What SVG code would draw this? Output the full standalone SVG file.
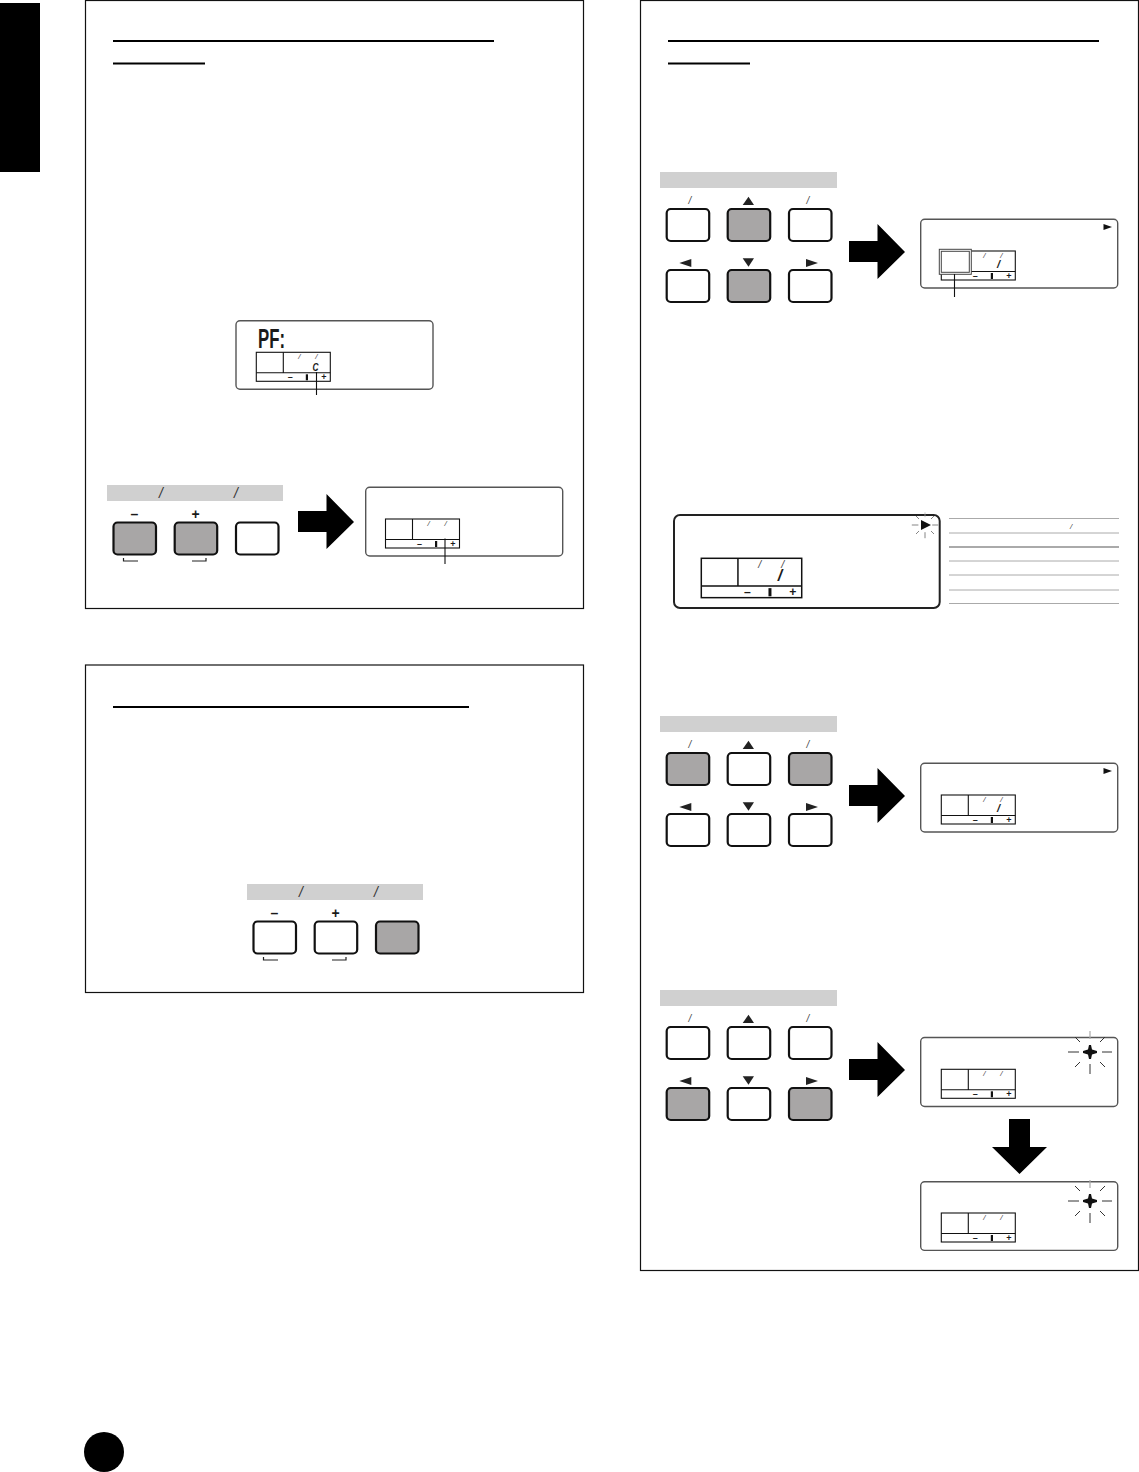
<svg xmlns="http://www.w3.org/2000/svg" xmlns:xlink="http://www.w3.org/1999/xlink" width="1139" height="1472" viewBox="0 0 1139 1472">
<style>
text{font-family:"Liberation Sans",Arial,sans-serif;fill:#1a1a1a;text-anchor:middle}
.frame{fill:#fff;stroke:#111;stroke-width:1.2}
.rule{stroke:#000;stroke-width:2.2;fill:none}
.lcd{fill:#fff;stroke:#555;stroke-width:1.4}
.lcdbig{fill:#fff;stroke:#222;stroke-width:2}
.cell{fill:none;stroke:#111;stroke-width:1.1}
.bar{fill:#d0d0d0}
.btn{fill:#fff;stroke:#111;stroke-width:2.2}
.on{fill:#a8a6a6;stroke:#111;stroke-width:2.2}
.sl{font-size:8px;font-style:italic;fill:#444}
.slb{font-size:14px;font-style:italic;fill:#333}
.mn{font-size:9px;font-weight:bold}
.key{font-size:14px;font-weight:bold}
.dig{font-size:11px;font-style:italic;font-weight:bold}
.lead{stroke:#111;stroke-width:1.1;fill:none}
.ray{stroke:#333;stroke-width:1;fill:none}
.rayg{stroke:#aaa;stroke-width:1.2;fill:none}
.tbl{stroke:#aaa;stroke-width:1;fill:none}
.tick{stroke:#222;stroke-width:1.2;fill:none}
</style>
<defs>
<g id="panel">
<rect class="cell" x="0" y="0" width="74" height="29"/>
<path class="cell" d="M27 0V20.5M0 20.5H74"/>
<text class="mn" x="34" y="27.5">–</text>
<rect x="49.5" y="22" width="2.2" height="6" fill="#111"/>
<text class="mn" x="67.5" y="27.8">+</text>
<text class="sl" x="43" y="7">/</text>
<text class="sl" x="60" y="7">/</text>
</g>
<polygon id="arrow" points="0,17 28.5,17 28.5,0 56,28 28.5,55 28.5,38 0,38" fill="#000"/>
<g id="rays">
<path class="ray" d="M-11 0H-22M12 0H22M0 12V22M-15 15L-10 10M10 10L15 15M10 -10L15 -15M-15 -15L-10 -10"/>
<path class="rayg" d="M0 -21V-13"/>
</g>
<polygon id="star" points="-7,-1 -2,-2.5 -1,-7 1,-7 2,-2.5 7,-1 7,1 2,2.5 1,7 -1,7 -2,2.5 -7,1" fill="#111"/>
<g id="keysym">
<rect class="bar" x="0" y="0" width="177" height="16"/>
<polygon points="82.7,33 94,33 88.5,24.7" fill="#222"/>
<polygon points="82.7,86.3 94,86.3 88.5,94.7" fill="#222"/>
<polygon points="19.3,91 31.3,87 31.3,95" fill="#222"/>
<polygon points="146,87 158,91 146,95" fill="#222"/>
<text class="sl" x="30" y="32" style="font-size:10px">/</text>
<text class="sl" x="148" y="32" style="font-size:10px">/</text>
</g>
<g id="plusminus">
<rect class="bar" x="0" y="0" width="176" height="16"/>
<text class="slb" x="54" y="13">/</text>
<text class="slb" x="129" y="13">/</text>
<text class="key" x="27.5" y="34">–</text>
<text class="key" x="88.5" y="34">+</text>
<path class="tick" d="M16.5 73V76H31M85 76H99V73"/>
</g>
</defs>

<rect width="1139" height="1472" fill="#fff"/>

<g id="tab"><rect x="0" y="3" width="40" height="169" fill="#000"/></g>
<g id="page-dot"><circle cx="104" cy="1452" r="20" fill="#000"/></g>

<g id="box-1">
<rect class="frame" x="85.5" y="0.5" width="498" height="608"/>
<path class="rule" d="M113 41H494M113 63.5H205"/>
</g>
<g id="lcd-1">
<rect class="lcd" x="236" y="320.7" width="197" height="68.5" rx="4"/>
<text x="258" y="347.5" font-size="27" font-weight="bold" textLength="27" lengthAdjust="spacingAndGlyphs" style="text-anchor:start">PF:</text>
<use xlink:href="#panel" href="#panel" x="256.3" y="352.3"/>
<text class="dig" x="315.5" y="371" textLength="6" lengthAdjust="spacingAndGlyphs">C</text>
</g>
<g id="keys-1">
<use xlink:href="#plusminus" href="#plusminus" x="107" y="485"/>
<rect class="on" x="113.5" y="522.5" width="42.5" height="32" rx="4"/>
<rect class="on" x="174.7" y="522.5" width="42.5" height="32" rx="4"/>
<rect class="btn" x="236" y="522.5" width="42.5" height="32" rx="4"/>
</g>
<g id="lcd-2">
<rect class="lcd" x="365.7" y="487.3" width="197" height="68.7" rx="4"/>
<use xlink:href="#panel" href="#panel" x="385.5" y="519"/>
</g>

<g id="box-2">
<rect class="frame" x="85.5" y="665" width="498" height="327.5"/>
<path class="rule" d="M113 707H469"/>
</g>
<g id="keys-2">
<use xlink:href="#plusminus" href="#plusminus" x="247" y="884"/>
<rect class="btn" x="253.5" y="921.5" width="42.5" height="32" rx="4"/>
<rect class="btn" x="314.7" y="921.5" width="42.5" height="32" rx="4"/>
<rect class="on" x="376" y="921.5" width="42.5" height="32" rx="4"/>
</g>

<g id="box-3">
<rect class="frame" x="640.5" y="0.5" width="498" height="1270"/>
<path class="rule" d="M668 41H1099M668 63.5H750"/>
</g>

<g id="keys-a">
<use xlink:href="#keysym" href="#keysym" x="660" y="172"/>
<rect class="btn" x="666.7" y="209" width="42.5" height="32" rx="4"/>
<rect class="on" x="727.7" y="209" width="42.5" height="32" rx="4"/>
<rect class="btn" x="789" y="209" width="42.5" height="32" rx="4"/>
<rect class="btn" x="666.7" y="270" width="42.5" height="32" rx="4"/>
<rect class="on" x="727.7" y="270" width="42.5" height="32" rx="4"/>
<rect class="btn" x="789" y="270" width="42.5" height="32" rx="4"/>
</g>
<g id="lcd-a">
<rect class="lcd" x="920.7" y="219.3" width="197" height="68.7" rx="4"/>
<use xlink:href="#panel" href="#panel" x="941.3" y="251"/>
<rect x="939.3" y="249.3" width="32" height="25" fill="#fff" stroke="#444" stroke-width="1"/>
<rect x="941.3" y="251.3" width="28" height="21" fill="#fff" stroke="#444" stroke-width="1"/>
<polygon points="1103.5,224 1112,227 1103.5,230" fill="#111"/>
<text class="dig" x="998.5" y="268">/</text>
</g>

<g id="lcd-b">
<rect class="lcdbig" x="674" y="515" width="265.7" height="93" rx="6"/>
<use xlink:href="#panel" href="#panel" transform="translate(701.3 558.3) scale(1.357)"/>
<text class="dig" x="780" y="581" style="font-size:16px">/</text>
<polygon points="921,520 931,525 921,530" fill="#111"/>
<use xlink:href="#rays" href="#rays" transform="translate(925 525) scale(.6)"/>
</g>
<g id="table">
<path class="tbl" d="M949 518.5H1119M949 533H1119M949 561H1119M949 575H1119M949 590H1119M949 603.5H1119"/>
<path class="tbl" style="stroke-width:2" d="M949 547H1119"/>
<text class="sl" x="1071" y="529">/</text>
</g>

<g id="keys-c">
<use xlink:href="#keysym" href="#keysym" x="660" y="716"/>
<rect class="on" x="666.7" y="753" width="42.5" height="32" rx="4"/>
<rect class="btn" x="727.7" y="753" width="42.5" height="32" rx="4"/>
<rect class="on" x="789" y="753" width="42.5" height="32" rx="4"/>
<rect class="btn" x="666.7" y="814" width="42.5" height="32" rx="4"/>
<rect class="btn" x="727.7" y="814" width="42.5" height="32" rx="4"/>
<rect class="btn" x="789" y="814" width="42.5" height="32" rx="4"/>
</g>
<g id="lcd-c">
<rect class="lcd" x="920.7" y="763.3" width="197" height="68.7" rx="4"/>
<use xlink:href="#panel" href="#panel" x="941.3" y="795"/>
<polygon points="1103.5,768 1112,771 1103.5,774" fill="#111"/>
<text class="dig" x="998.5" y="812">/</text>
</g>

<g id="keys-d">
<use xlink:href="#keysym" href="#keysym" x="660" y="990"/>
<rect class="btn" x="666.7" y="1027" width="42.5" height="32" rx="4"/>
<rect class="btn" x="727.7" y="1027" width="42.5" height="32" rx="4"/>
<rect class="btn" x="789" y="1027" width="42.5" height="32" rx="4"/>
<rect class="on" x="666.7" y="1088" width="42.5" height="32" rx="4"/>
<rect class="btn" x="727.7" y="1088" width="42.5" height="32" rx="4"/>
<rect class="on" x="789" y="1088" width="42.5" height="32" rx="4"/>
</g>
<g id="lcd-d">
<rect class="lcd" x="920.7" y="1037.5" width="197" height="69" rx="4"/>
<use xlink:href="#panel" href="#panel" x="941.3" y="1069.3"/>
<use xlink:href="#star" href="#star" x="1090" y="1052"/>
<use xlink:href="#rays" href="#rays" x="1090" y="1052"/>
</g>
<g id="lcd-e">
<rect class="lcd" x="920.7" y="1181.7" width="197" height="68.7" rx="4"/>
<use xlink:href="#panel" href="#panel" x="941.3" y="1213"/>
<use xlink:href="#star" href="#star" x="1090" y="1201"/>
<use xlink:href="#rays" href="#rays" x="1090" y="1201"/>
</g>

<g id="connectors">
<path class="lead" d="M316.5 372V395M445 538.5V564M954.5 274V297"/>
<use xlink:href="#arrow" href="#arrow" x="298" y="494"/>
<use xlink:href="#arrow" href="#arrow" x="849" y="224"/>
<use xlink:href="#arrow" href="#arrow" x="849" y="768"/>
<use xlink:href="#arrow" href="#arrow" x="849" y="1042"/>
<polygon points="1009,1119 1030,1119 1030,1147 1047,1147 1019.5,1174 992,1147 1009,1147" fill="#000"/>
</g>
</svg>
